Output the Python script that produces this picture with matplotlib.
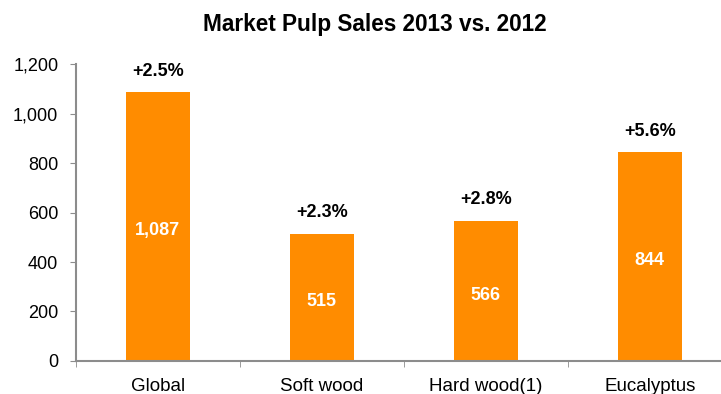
import matplotlib.pyplot as plt
from matplotlib.ticker import FuncFormatter

plt.rcParams['font.family'] = ['Liberation Sans', 'DejaVu Sans']

categories = ["Global", "Soft wood", "Hard wood(1)", "Eucalyptus"]
sales_2013 = [1087, 515, 566, 844]
growth = ["+2.5%", "+2.3%", "+2.8%", "+5.6%"]

ORANGE = "#FF8C00"
GREY = "#8C8C8C"

fig = plt.figure(figsize=(7.21, 3.94), dpi=100)
# the category axis runs a little past the right edge of the picture
ax = fig.add_axes([0.105, 0.084, 0.91, 0.753])

x = list(range(len(categories)))
ax.bar(x, sales_2013, width=0.39, color=ORANGE)

for xi, v, g in zip(x, sales_2013, growth):
    ax.annotate(f"{v:,}", (xi, v / 2), xytext=(0, -3), textcoords="offset points",
                ha="center", va="center", color="white",
                fontsize=13, fontweight="bold")
    ax.annotate(g, (xi, v), xytext=(0, 9), textcoords="offset points",
                ha="center", va="bottom", fontsize=13, fontweight="bold")

ax.set_xlim(-0.5, len(categories) - 0.5)
ax.set_ylim(0, 1200)
ax.set_yticks(range(0, 1201, 200))
ax.yaxis.set_major_formatter(FuncFormatter(lambda v, p: f"{int(v):,}"))
ax.set_xticks(x)
ax.set_xticklabels(categories)
ax.set_xticks([i - 0.5 for i in x], minor=True)
ax.tick_params(axis="x", which="major", length=0, pad=12, labelsize=13.5)
ax.tick_params(axis="x", which="minor", length=4, color=GREY)
ax.tick_params(axis="y", length=4.5, color=GREY, labelsize=13, pad=8)

for side in ["top", "right"]:
    ax.spines[side].set_visible(False)
for side in ["left", "bottom"]:
    ax.spines[side].set_color(GREY)
    ax.spines[side].set_linewidth(1.5)

fig.text(0.52, 0.937, "Market Pulp Sales 2013 vs. 2012", ha="center", va="center",
         fontsize=16.3, fontweight="bold")

fig.savefig("out.png", dpi=100)
